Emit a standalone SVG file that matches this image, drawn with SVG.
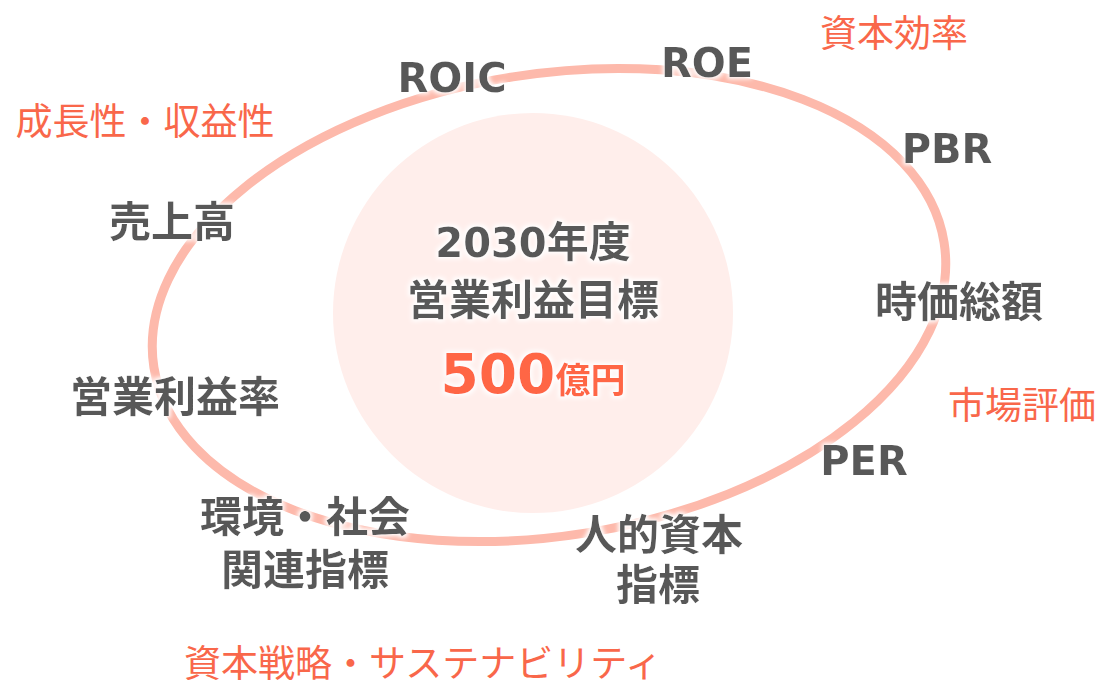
<svg xmlns="http://www.w3.org/2000/svg" width="1101" height="680" viewBox="0 0 1101 680">
<defs>
<filter id="glow" x="-10%" y="-30%" width="120%" height="160%">
<feMorphology in="SourceAlpha" operator="dilate" radius="2" result="d"/>
<feGaussianBlur in="d" stdDeviation="2" result="b"/>
<feFlood flood-color="#ffffff"/>
<feComposite in2="b" operator="in" result="w"/>
<feMerge><feMergeNode in="w"/><feMergeNode in="SourceGraphic"/></feMerge>
</filter>
<style>
text{font-family:"Noto Sans CJK JP","Noto Sans",sans-serif;}
.k{fill:#595959;font-weight:bold;font-size:42px;text-anchor:middle;filter:url(#glow);}
.l{fill:#595959;font-weight:bold;font-size:40px;text-anchor:middle;font-family:"DejaVu Sans","Noto Sans CJK JP",sans-serif;filter:url(#glow);}
.lat{font-family:"DejaVu Sans",sans-serif;}
.o{fill:#F9674A;font-size:37px;text-anchor:middle;}
</style>
</defs>
<rect width="1101" height="680" fill="#ffffff"/>
<g id="center-circle"><circle cx="533" cy="313" r="200" fill="#FFEEEB"/></g>
<g id="connectors"><ellipse cx="549" cy="305" rx="400" ry="231" transform="rotate(-9 549 305)" fill="none" stroke="#FDB9AB" stroke-width="9"/></g>
<g id="n-center">
<text class="k" x="533" y="257"><tspan class="lat" font-size="40px">2030</tspan>年度</text>
<text class="k" x="533" y="315">営業利益目標</text>
<text x="533" y="393" text-anchor="middle" fill="#FF6644" font-weight="bold" filter="url(#glow)"><tspan class="lat" font-size="55px">500</tspan><tspan font-size="35px">億円</tspan></text>
</g>
<g id="n-roe"><text class="l" x="707" y="77">ROE</text></g>
<g id="n-roic"><text class="l" x="452" y="92">ROIC</text></g>
<g id="n-pbr"><text class="l" x="947" y="163">PBR</text></g>
<g id="n-per"><text class="l" x="864" y="475">PER</text></g>
<g id="n-sales"><text class="k" x="172" y="237">売上高</text></g>
<g id="n-margin"><text class="k" x="175" y="412">営業利益率</text></g>
<g id="n-env"><text class="k" x="305" y="532">環境・社会</text><text class="k" x="305" y="585">関連指標</text></g>
<g id="n-human"><text class="k" x="659" y="550">人的資本</text><text class="k" x="658" y="600">指標</text></g>
<g id="n-mcap"><text class="k" x="959" y="317">時価総額</text></g>
<g id="c-capeff"><text class="o" x="894" y="47">資本効率</text></g>
<g id="c-growth"><text class="o" x="145" y="135">成長性・収益性</text></g>
<g id="c-market"><text class="o" x="1022" y="419">市場評価</text></g>
<g id="c-strategy"><text class="o" x="423" y="677">資本戦略・サステナビリティ</text></g>
</svg>
